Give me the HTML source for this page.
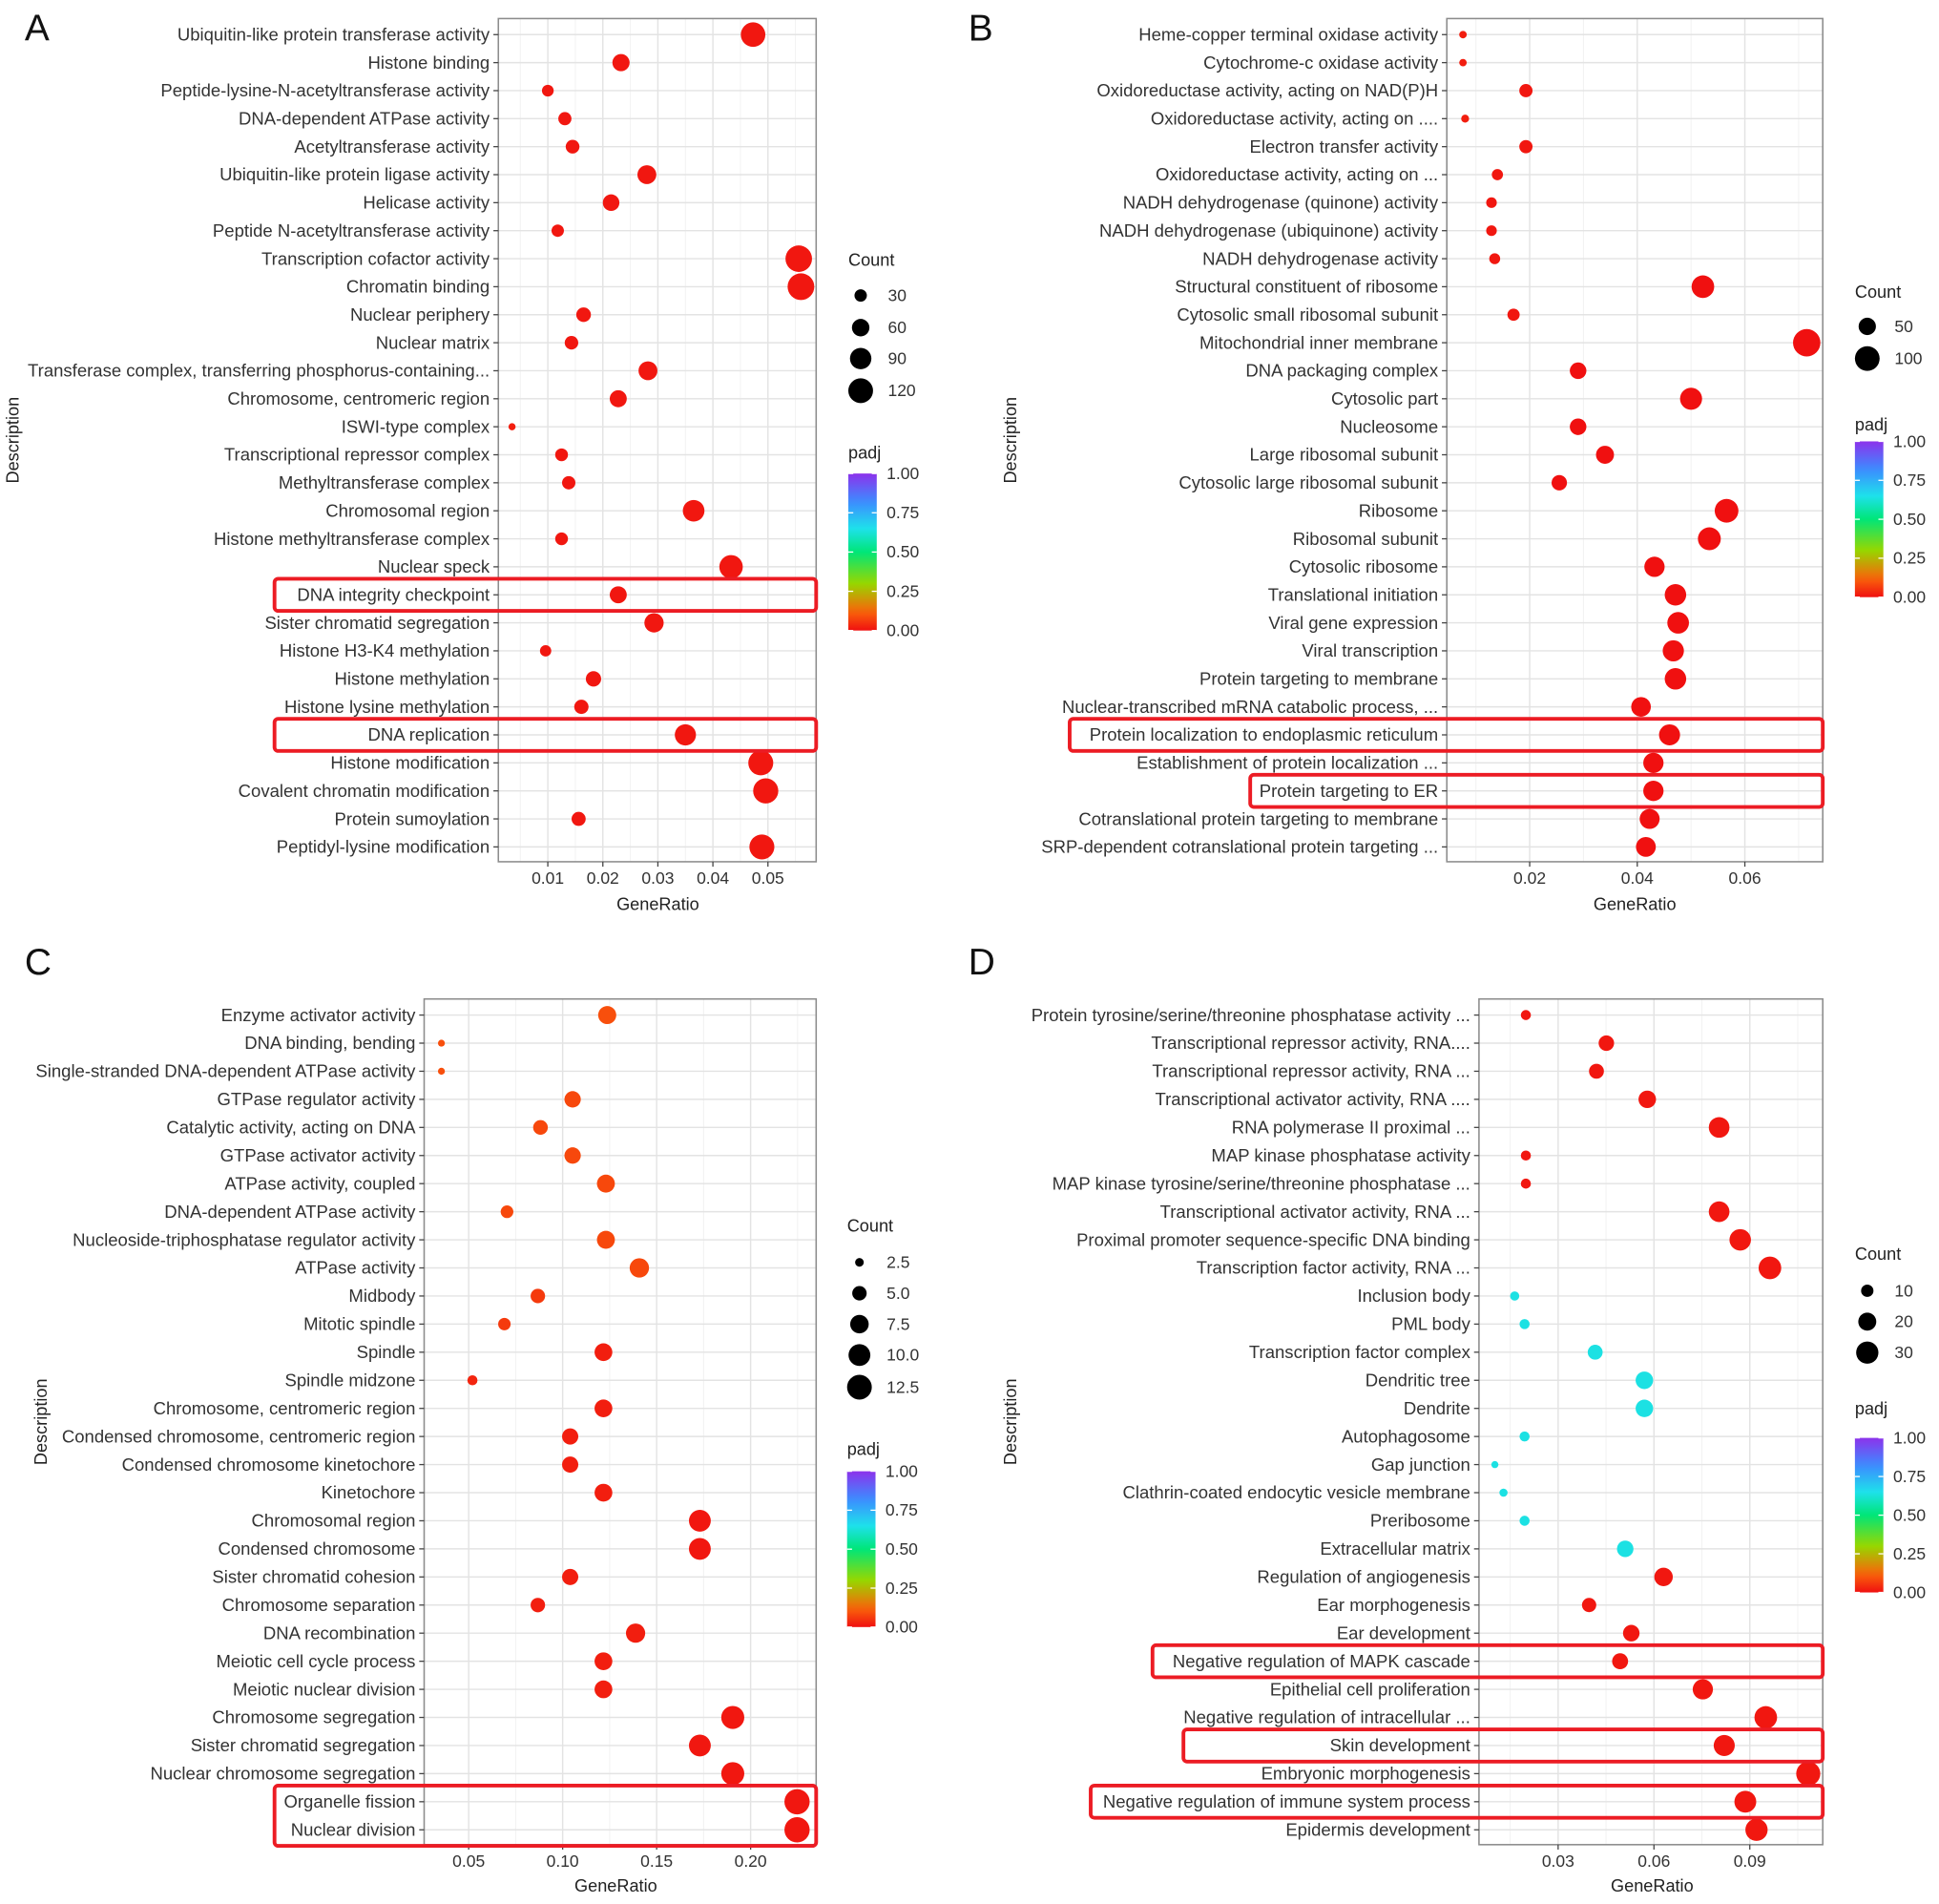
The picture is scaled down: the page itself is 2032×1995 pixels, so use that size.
<!DOCTYPE html>
<html><head><meta charset="utf-8">
<style>
html,body{margin:0;padding:0;background:#fff;}
svg{display:block;font-family:"Liberation Sans",Arial,sans-serif;}
</style></head>
<body>
<svg id="fig" width="2032" height="1995" viewBox="0 0 1568 1540" preserveAspectRatio="none"></svg>
<script>
// ---------- Panel A data ----------
const labelsA = ["Ubiquitin-like protein transferase activity","Histone binding","Peptide-lysine-N-acetyltransferase activity","DNA-dependent ATPase activity","Acetyltransferase activity","Ubiquitin-like protein ligase activity","Helicase activity","Peptide N-acetyltransferase activity","Transcription cofactor activity","Chromatin binding","Nuclear periphery","Nuclear matrix","Transferase complex, transferring phosphorus-containing...","Chromosome, centromeric region","ISWI-type complex","Transcriptional repressor complex","Methyltransferase complex","Chromosomal region","Histone methyltransferase complex","Nuclear speck","DNA integrity checkpoint","Sister chromatid segregation","Histone H3-K4 methylation","Histone methylation","Histone lysine methylation","DNA replication","Histone modification","Covalent chromatin modification","Protein sumoylation","Peptidyl-lysine modification"];
const ratioA = [0.0473,0.0233,0.0100,0.0131,0.0145,0.0280,0.0215,0.0118,0.0556,0.0560,0.0165,0.0143,0.0282,0.0228,0.0035,0.0125,0.0138,0.0365,0.0125,0.0433,0.0228,0.0293,0.0096,0.0183,0.0161,0.0350,0.0487,0.0496,0.0156,0.0489];
const countA = [118,58,27,34,37,70,54,30,138,140,42,36,70,57,10,32,35,92,32,108,57,73,25,46,40,88,122,124,39,122];
const padjA  = [0.01,0.01,0.01,0.01,0.01,0.01,0.01,0.01,0.01,0.01,0.01,0.01,0.01,0.01,0.02,0.01,0.01,0.01,0.01,0.01,0.01,0.01,0.01,0.01,0.01,0.01,0.01,0.01,0.01,0.01];
const ticksA = [0.01,0.02,0.03,0.04,0.05];
const tickLabelsA = ["0.01","0.02","0.03","0.04","0.05"];
const sizeBreaksA = [30,60,90,120];

// ---------- Panel B data ----------
const labelsB = ["Heme-copper terminal oxidase activity","Cytochrome-c oxidase activity","Oxidoreductase activity, acting on NAD(P)H","Oxidoreductase activity, acting on ....","Electron transfer activity","Oxidoreductase activity, acting on ...","NADH dehydrogenase (quinone) activity","NADH dehydrogenase (ubiquinone) activity","NADH dehydrogenase activity","Structural constituent of ribosome","Cytosolic small ribosomal subunit","Mitochondrial inner membrane","DNA packaging complex","Cytosolic part","Nucleosome","Large ribosomal subunit","Cytosolic large ribosomal subunit","Ribosome","Ribosomal subunit","Cytosolic ribosome","Translational initiation","Viral gene expression","Viral transcription","Protein targeting to membrane","Nuclear-transcribed mRNA catabolic process, ...","Protein localization to endoplasmic reticulum","Establishment of protein localization ...","Protein targeting to ER","Cotranslational protein targeting to membrane","SRP-dependent cotranslational protein targeting ..."];
const ratioB = [0.0076,0.0076,0.0193,0.0080,0.0193,0.0140,0.0129,0.0129,0.0135,0.0522,0.0170,0.0715,0.0290,0.0500,0.0290,0.0340,0.0255,0.0566,0.0534,0.0432,0.0471,0.0476,0.0467,0.0471,0.0407,0.0460,0.0430,0.0430,0.0423,0.0416];
const countB = [11,11,30,12,30,22,20,20,21,84,26,122,46,80,46,54,40,92,86,68,76,77,74,76,64,73,68,68,66,65];
const padjB  = [0.02,0.02,0.01,0.02,0.01,0.01,0.01,0.01,0.01,0.0,0.01,0.0,0.0,0.0,0.0,0.0,0.0,0.0,0.0,0.0,0.0,0.0,0.0,0.0,0.0,0.0,0.0,0.0,0.0,0.0];
const ticksB = [0.02,0.04,0.06];
const tickLabelsB = ["0.02","0.04","0.06"];
const sizeBreaksB = [50,100];

// ---------- Panel C data ----------
const labelsC = ["Enzyme activator activity","DNA binding, bending","Single-stranded DNA-dependent ATPase activity","GTPase regulator activity","Catalytic activity, acting on DNA","GTPase activator activity","ATPase activity, coupled","DNA-dependent ATPase activity","Nucleoside-triphosphatase regulator activity","ATPase activity","Midbody","Mitotic spindle","Spindle","Spindle midzone","Chromosome, centromeric region","Condensed chromosome, centromeric region","Condensed chromosome kinetochore","Kinetochore","Chromosomal region","Condensed chromosome","Sister chromatid cohesion","Chromosome separation","DNA recombination","Meiotic cell cycle process","Meiotic nuclear division","Chromosome segregation","Sister chromatid segregation","Nuclear chromosome segregation","Organelle fission","Nuclear division"];
const ratioC = [0.1237,0.0355,0.0355,0.1053,0.0882,0.1053,0.1230,0.0704,0.1230,0.1408,0.0868,0.0690,0.1217,0.0520,0.1217,0.1040,0.1040,0.1217,0.1730,0.1730,0.1040,0.0868,0.1388,0.1217,0.1217,0.1905,0.1730,0.1905,0.2247,0.2247];
const countC = [7.2,2.0,2.0,6.1,5.1,6.1,7.1,4.1,7.1,8.1,5.0,4.0,7.0,3.0,7.0,6.0,6.0,7.0,10.0,10.0,6.0,5.0,8.0,7.0,7.0,11.0,10.0,11.0,13.0,13.0];
const padjC  = [0.09,0.09,0.09,0.08,0.08,0.08,0.08,0.08,0.08,0.08,0.06,0.06,0.02,0.03,0.02,0.02,0.02,0.02,0.01,0.01,0.02,0.02,0.02,0.02,0.02,0.01,0.01,0.01,0.01,0.01];
const ticksC = [0.05,0.10,0.15,0.20];
const tickLabelsC = ["0.05","0.10","0.15","0.20"];
const sizeBreaksC = [2.5,5.0,7.5,10.0,12.5];

// ---------- Panel D data ----------
const labelsD = ["Protein tyrosine/serine/threonine phosphatase activity ...","Transcriptional repressor activity, RNA....","Transcriptional repressor activity, RNA ...","Transcriptional activator activity, RNA ....","RNA polymerase II proximal ...","MAP kinase phosphatase activity","MAP kinase tyrosine/serine/threonine phosphatase ...","Transcriptional activator activity, RNA ...","Proximal promoter sequence-specific DNA binding","Transcription factor activity, RNA ...","Inclusion body","PML body","Transcription factor complex","Dendritic tree","Dendrite","Autophagosome","Gap junction","Clathrin-coated endocytic vesicle membrane","Preribosome","Extracellular matrix","Regulation of angiogenesis","Ear morphogenesis","Ear development","Negative regulation of MAPK cascade","Epithelial cell proliferation","Negative regulation of intracellular ...","Skin development","Embryonic morphogenesis","Negative regulation of immune system process","Epidermis development"];
const ratioD = [0.0199,0.0451,0.0420,0.0579,0.0804,0.0199,0.0199,0.0804,0.0870,0.0963,0.0164,0.0195,0.0416,0.0570,0.0570,0.0195,0.0102,0.0129,0.0195,0.0510,0.0630,0.0397,0.0529,0.0494,0.0753,0.0950,0.0820,0.1083,0.0886,0.0921];
const countD = [7,15,14,19,26,7,7,26,28,31,6,7,14,19,19,7,4,5,7,17,21,13,17,16,25,31,27,35,29,30];
const padjD  = [0.01,0.01,0.01,0.01,0.01,0.01,0.01,0.01,0.01,0.01,0.64,0.64,0.64,0.64,0.64,0.64,0.64,0.64,0.64,0.64,0.01,0.01,0.01,0.01,0.01,0.01,0.01,0.01,0.01,0.01];
const ticksD = [0.03,0.06,0.09];
const tickLabelsD = ["0.03","0.06","0.09"];
const sizeBreaksD = [10,20,30];

const padjTicks = [1.00,0.75,0.50,0.25,0.00];
const padjTickLabels = ["1.00","0.75","0.50","0.25","0.00"];

const NS = "http://www.w3.org/2000/svg";
const svg = document.getElementById("fig");
function mk(tag, attrs, parent){ const e=document.createElementNS(NS,tag); for(const k in attrs) e.setAttribute(k,attrs[k]); (parent||svg).appendChild(e); return e; }

const stops = [[0,[240,16,16]],[0.12,[250,100,10]],[0.3,[150,215,0]],[0.5,[0,230,120]],[0.65,[30,225,235]],[0.82,[60,140,255]],[1,[140,50,235]]];
function colorOf(p){
  for(let i=1;i<stops.length;i++){ if(p<=stops[i][0]){ const a=stops[i-1],b=stops[i]; const t=(p-a[0])/(b[0]-a[0]); const c=a[1].map((v,j)=>Math.round(v+(b[1][j]-v)*t)); return `rgb(${c[0]},${c[1]},${c[2]})`; } }
  return "rgb(140,50,235)";
}

const panels = [
 {id:"a",letter:"A",lx:20,ly:33,box:[403,15,660,697],xv:[0.01,443,0.05,621],labels:labelsA,ratio:ratioA,count:countA,padj:padjA,ticks:ticksA,tl:tickLabelsA,
  sb:sizeBreaksA,sr:[30,5,120,10],descX:15,grX:532,grY:732,
  leg:{x:686,cy:211,dots:[239,265,290,316],py:367,bar:[383,510]},
  hl:[[20,222],[25,222]]},
 {id:"b",letter:"B",lx:783,ly:33,box:[1170,15,1474,697],xv:[0.02,1237,0.06,1411],labels:labelsB,ratio:ratioB,count:countB,padj:padjB,ticks:ticksB,tl:tickLabelsB,
  sb:sizeBreaksB,sr:[50,7,100,10],descX:822,grX:1322,grY:732,
  leg:{x:1500,cy:237,dots:[264,290],py:344,bar:[357,483]},
  hl:[[25,865],[27,1011]]},
 {id:"c",letter:"C",lx:20,ly:788,box:[343,808,660,1492],xv:[0.05,379,0.20,607],labels:labelsC,ratio:ratioC,count:countC,padj:padjC,ticks:ticksC,tl:tickLabelsC,
  sb:sizeBreaksC,sr:[2.5,3.5,12.5,10],descX:38,grX:498,grY:1526,
  leg:{x:685,cy:992,dots:[1021,1046,1071,1096,1122],py:1173,bar:[1190,1316]},
  hl:[[28,222,29]]},
 {id:"d",letter:"D",lx:783,ly:788,box:[1196,808,1474,1492],xv:[0.03,1260,0.09,1415],labels:labelsD,ratio:ratioD,count:countD,padj:padjD,ticks:ticksD,tl:tickLabelsD,
  sb:sizeBreaksD,sr:[10,5,30,9],descX:822,grX:1336,grY:1526,
  leg:{x:1500,cy:1015,dots:[1044,1069,1094],py:1140,bar:[1163,1288]},
  hl:[[23,932],[26,957],[28,882]]}
];

const defs = mk("defs",{});
const lg = mk("linearGradient",{id:"padjGrad",x1:"0",y1:"1",x2:"0",y2:"0"},defs);
for(let i=0;i<=20;i++){ mk("stop",{offset:(i/20),"stop-color":colorOf(i/20)},lg); }

panels.forEach(P=>{
  const g = mk("g",{});
  
  
  const [x0,y0,x1,y1]=P.box;
  const n=P.labels.length;
  const rowY0 = y0+13, rowY1 = y1-12;
  const yOf = i => rowY0 + i*(rowY1-rowY0)/(n-1);
  const k=(P.xv[3]-P.xv[1])/(P.xv[2]-P.xv[0]);
  const xOf = v => P.xv[1] + (v-P.xv[0])*k;
  const rOf = c => { const [c0,r0,c1,r1]=P.sr; const a=r0*r0+(c-c0)*(r1*r1-r0*r0)/(c1-c0); return Math.sqrt(Math.max(a,4)); };

  const lt = mk("text",{x:P.lx,y:P.ly,"font-size":30,fill:"#111"},g); lt.textContent=P.letter;
   

  const bg = mk("rect",{x:x0,y:y0,width:x1-x0,height:y1-y0,fill:"#fff"},g);
   
  const step = P.ticks[1]-P.ticks[0];
  for(let v=P.ticks[0]-step*1.5; v<=P.ticks[P.ticks.length-1]+step*1.5; v+=step){
    const px=xOf(v); if(px>x0&&px<x1) mk("line",{x1:px,x2:px,y1:y0,y2:y1,stroke:"#f2f2f2","stroke-width":0.8},g);
  }
  P.ticks.forEach(v=>{ const px=xOf(v); mk("line",{x1:px,x2:px,y1:y0,y2:y1,stroke:"#e3e3e3","stroke-width":1.1},g); });
  for(let i=0;i<n;i++){ mk("line",{x1:x0,x2:x1,y1:yOf(i),y2:yOf(i),stroke:"#e3e3e3","stroke-width":1.1},g); }
  mk("rect",{x:x0,y:y0,width:x1-x0,height:y1-y0,fill:"none",stroke:"#8c8c8c","stroke-width":1.2},g);

  for(let i=0;i<n;i++){
    mk("line",{x1:x0-4,x2:x0,y1:yOf(i),y2:yOf(i),stroke:"#444","stroke-width":1},g);
    const t = mk("text",{x:x0-7,y:yOf(i)+4.8,"font-size":14.3,"text-anchor":"end",fill:"#333"},g);
    t.textContent=P.labels[i];
    
    
  }
  P.ticks.forEach((v,i)=>{
    const px=xOf(v);
    mk("line",{x1:px,x2:px,y1:y1,y2:y1+4,stroke:"#444","stroke-width":1},g);
    const t=mk("text",{x:px,y:y1+18,"font-size":13.5,"text-anchor":"middle",fill:"#333"},g);
    t.textContent=P.tl[i];
    
    
  });
  const xt=mk("text",{x:P.grX,y:P.grY+4,"font-size":14,"text-anchor":"middle",fill:"#222"},g);
  xt.textContent="GeneRatio";  
  const cy=(y0+y1)/2;
  const yt=mk("text",{x:P.descX,y:cy,"font-size":14,"text-anchor":"middle",fill:"#222",transform:`rotate(-90 ${P.descX} ${cy})`},g);
  yt.textContent="Description";  

  for(let i=0;i<n;i++){
    const c=mk("circle",{cx:xOf(P.ratio[i]),cy:yOf(i),r:rOf(P.count[i]),fill:colorOf(P.padj[i])},g);
    
    
  }
  P.hl.forEach(h=>{
    const i0=h[0], i1=h.length>2?h[2]:h[0];
    const r=mk("rect",{x:h[1],y:yOf(i0)-13,width:x1-h[1],height:yOf(i1)-yOf(i0)+26,rx:3,fill:"none",stroke:"#ec1c24","stroke-width":3},g);
    
    
  });

  const L=P.leg;
  const ct=mk("text",{x:L.x,y:L.cy+4,"font-size":14,fill:"#222"},g); ct.textContent="Count";
   
  P.sb.forEach((b,i)=>{
    const d=mk("circle",{cx:L.x+10,cy:L.dots[i],r:rOf(b),fill:"#000"},g);
     
    const t=mk("text",{x:L.x+32,y:L.dots[i]+4.5,"font-size":13.5,fill:"#333"},g);
    t.textContent=(P.id==="c")?b.toFixed(1):String(b);
     
  });
  const pt=mk("text",{x:L.x,y:L.py+4,"font-size":14,fill:"#222"},g); pt.textContent="padj";
   
  const cb=mk("rect",{x:L.x,y:L.bar[0],width:23,height:L.bar[1]-L.bar[0],fill:"url(#padjGrad)"},g);
   
  padjTicks.forEach((v,i)=>{
    const yy=L.bar[1]-v*(L.bar[1]-L.bar[0]);
    mk("line",{x1:L.x,x2:L.x+4,y1:yy,y2:yy,stroke:"#fff","stroke-width":1},g);
    mk("line",{x1:L.x+19,x2:L.x+23,y1:yy,y2:yy,stroke:"#fff","stroke-width":1},g);
    const t=mk("text",{x:L.x+31,y:yy+4.5,"font-size":13.5,fill:"#333"},g);
    t.textContent=padjTickLabels[i];
     
  });
});
</script>
</body></html>
